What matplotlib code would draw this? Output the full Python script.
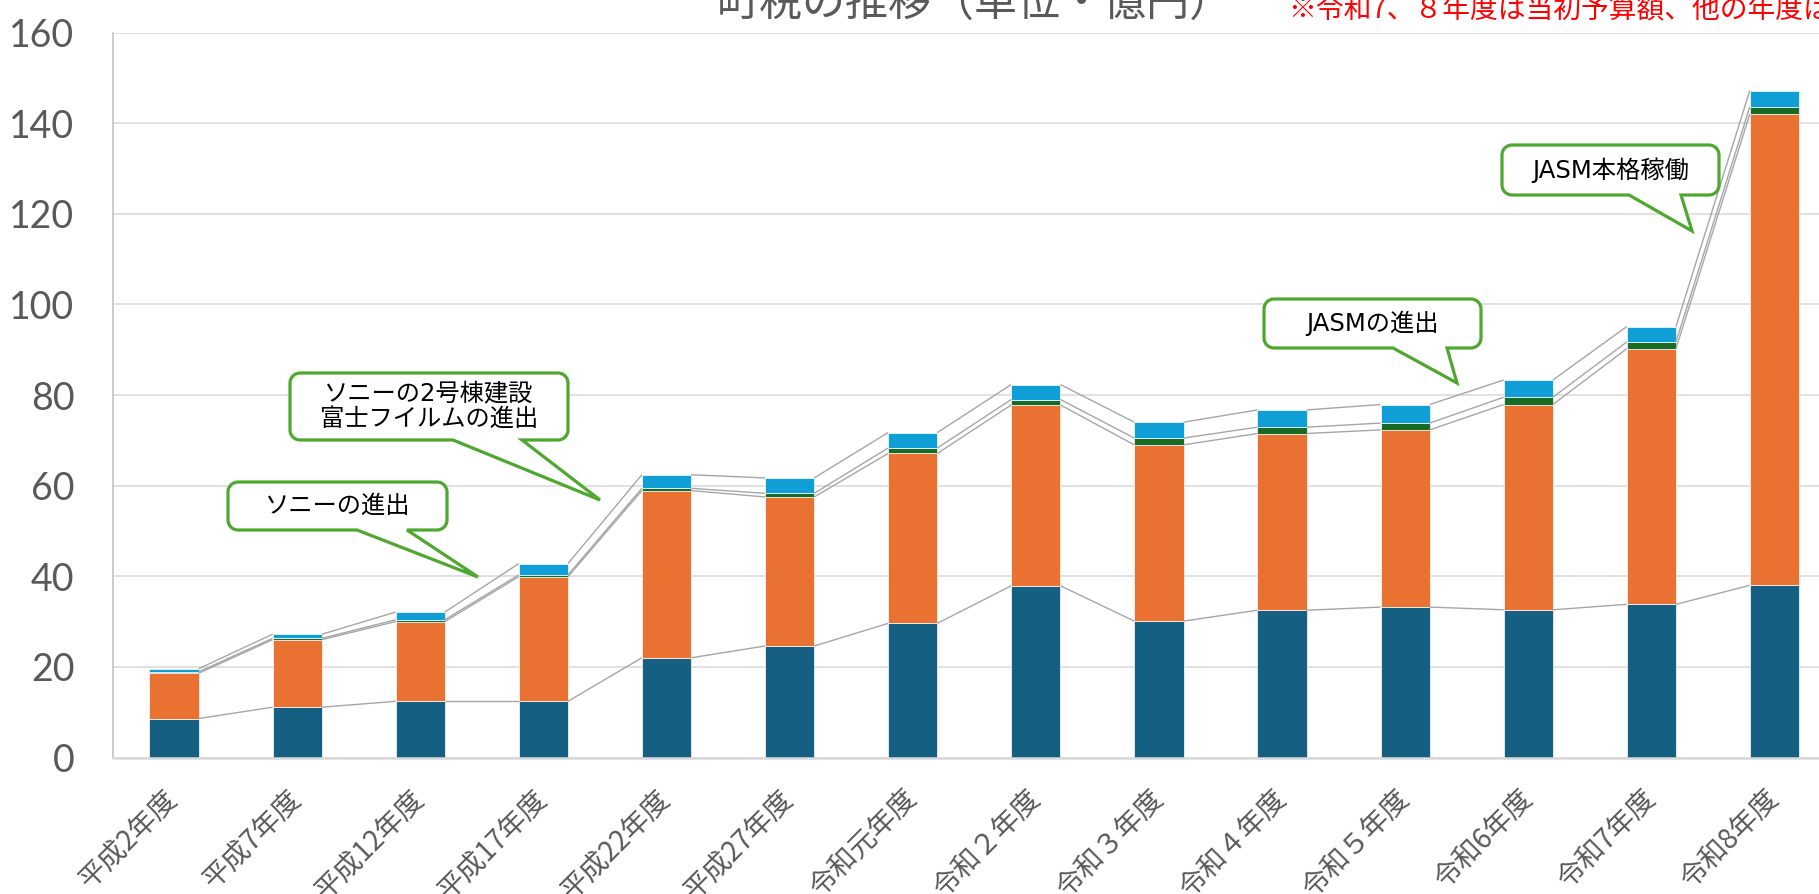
import numpy as np
import matplotlib
matplotlib.use("Agg")
import matplotlib.pyplot as plt
from matplotlib.patches import Polygon
from matplotlib.transforms import IdentityTransform

plt.rcParams['font.family'] = ['Noto Sans CJK JP', 'DejaVu Sans']

# ---------------- data ----------------
categories = ['平成2年度', '平成7年度', '平成12年度', '平成17年度', '平成22年度',
              '平成27年度', '令和元年度', '令和２年度', '令和３年度', '令和４年度',
              '令和５年度', '令和6年度', '令和7年度', '令和8年度']
tax_resident = [8.6, 11.1, 12.4, 12.4, 22.0, 24.6, 29.6, 37.9, 30.1, 32.5, 33.2, 32.6, 33.8, 38.0]
tax_property = [10.0, 14.9, 17.6, 27.5, 36.9, 32.9, 37.5, 39.9, 38.9, 39.0, 39.1, 45.3, 56.4, 104.0]
tax_vehicle = [0.3, 0.3, 0.4, 0.4, 0.5, 0.8, 1.2, 1.2, 1.5, 1.4, 1.5, 1.6, 1.5, 1.6]
tax_tobacco = [0.7, 0.9, 1.7, 2.5, 3.0, 3.4, 3.4, 3.3, 3.5, 3.8, 4.1, 3.8, 3.4, 3.6]
y_ticks = [0, 20, 40, 60, 80, 100, 120, 140, 160]

series = [tax_resident, tax_property, tax_vehicle, tax_tobacco]
colors = ['#156082', '#E97132', '#196B24', '#0F9ED5']

W, H = 1819, 894
fig = plt.figure(figsize=(W / 100, H / 100), dpi=100)
ax = fig.add_axes([112.5 / W, 136.5 / H, 1723.5 / W, 725 / H])

x = np.arange(len(categories))
bw = 0.4
bottom = np.zeros(len(categories))
tops = []
for vals, c in zip(series, colors):
    v = np.array(vals)
    ax.bar(x, v, bw, bottom=bottom, color=c, edgecolor='white', linewidth=0.5, zorder=2)
    bottom = bottom + v
    tops.append(bottom.copy())

# series lines
for t in tops:
    for i in range(len(categories) - 1):
        ax.plot([x[i] + bw / 2, x[i + 1] - bw / 2], [t[i], t[i + 1]],
                color='#A6A6A6', lw=1.0, zorder=3, solid_capstyle='butt')

ax.set_xlim(-0.5, len(categories) - 0.5)
ax.set_ylim(0, 160)
ax.set_yticks(y_ticks)
ax.set_xticks(x)
ax.set_xticklabels(categories, rotation=45, ha='right', va='center',
                   rotation_mode='anchor', fontsize=20, color='#595959')
ax.tick_params(axis='x', length=0, pad=27)
ax.tick_params(axis='y', length=0, pad=27.5, labelsize=27, labelcolor='#595959')
for lab in ax.get_yticklabels():
    lab.set_fontfamily(['Lato', 'DejaVu Sans'])
    lab.set_fontweight('normal')

ax.yaxis.grid(True, color='#D9D9D9', lw=1.1, zorder=0)
ax.set_axisbelow(True)
for s in ['top', 'right']:
    ax.spines[s].set_visible(False)
ax.spines['left'].set_color('#BFBFBF')
ax.spines['left'].set_linewidth(1.1)
ax.spines['bottom'].set_color('#D9D9D9')
ax.spines['bottom'].set_linewidth(1.8)

# titles
fig.text(975 / W, (H - 17) / H, '町税の推移（単位・億円）', ha='center', va='baseline',
         fontsize=31, color='#595959')
fig.text(1288 / W, (H - 18) / H, '※令和7、８年度は当初予算額、他の年度は決算額',
         ha='left', va='baseline', fontsize=20, color='#FF0000')


# callouts (pixel positions, top-left origin)
def callout(x0, y0, x1, y1, bl, br, tip, text, r=10):
    pts = [(bl, y1), tip, (br, y1), (x1 - r, y1)]
    def arc(cx, cy, a0, a1):
        return [(cx + r * np.cos(np.radians(a)), cy + r * np.sin(np.radians(a)))
                for a in np.linspace(a0, a1, 10)]
    pts += arc(x1 - r, y1 - r, 90, 0)
    pts += arc(x1 - r, y0 + r, 0, -90)
    pts += arc(x0 + r, y0 + r, -90, -180)
    pts += arc(x0 + r, y1 - r, 180, 90)
    disp = [(px, H - py) for px, py in pts]
    poly = Polygon(disp, closed=True, facecolor='white', edgecolor='#4EA72E',
                   linewidth=2.3, transform=IdentityTransform(), zorder=10,
                   joinstyle='miter')
    fig.add_artist(poly)
    fig.text((x0 + x1) / 2 / W, (H - (y0 + y1) / 2) / H, text, ha='center', va='center',
             fontsize=17.5, color='black', zorder=11, linespacing=1.05,
             family=['DejaVu Sans', 'Noto Sans CJK JP'])


callout(228, 482, 447, 530, 357, 407, (478, 577), 'ソニーの進出')
callout(290, 373, 568, 440, 453, 522, (600, 500), 'ソニーの2号棟建設\n富士フイルムの進出')
callout(1264, 299, 1481, 348, 1393, 1447, (1457, 383), 'JASMの進出')
callout(1502, 145, 1719, 195, 1629, 1681, (1692, 231), 'JASM本格稼働')

fig.savefig('out.png', dpi=100)
